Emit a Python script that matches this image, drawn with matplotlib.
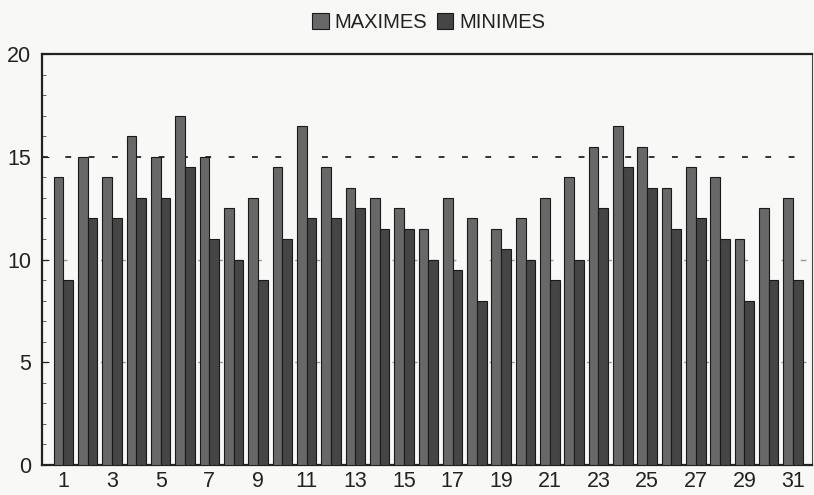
import matplotlib.pyplot as plt
from matplotlib.ticker import MultipleLocator
import numpy as np

# jours du mois
days = np.arange(1, 32)

maximes = [14, 15, 14, 16, 15, 17, 15, 12.5, 13, 14.5,
           16.5, 14.5, 13.5, 13, 12.5, 11.5, 13, 12, 11.5, 12,
           13, 14, 15.5, 16.5, 15.5, 13.5, 14.5, 14, 11, 12.5, 13]
minimes = [9, 12, 12, 13, 13, 14.5, 11, 10, 9, 11,
           12, 12, 12.5, 11.5, 11.5, 10, 9.5, 8, 10.5, 10,
           9, 10, 12.5, 14.5, 13.5, 11.5, 12, 11, 8, 9, 9]

xticks = list(range(1, 32, 2))
yticks = [0, 5, 10, 15, 20]

plt.rcParams['font.family'] = ['Liberation Sans', 'DejaVu Sans']

fig = plt.figure(figsize=(8.14, 4.95), dpi=100, facecolor='#f8f8f6')
ax = fig.add_axes([0.0516, 0.0606, 0.946, 0.83])
ax.set_facecolor('#f8f8f6')

w = 0.4
ax.bar(days - w / 2, maximes, width=w, color='#686868', edgecolor='#1a1a1a',
       linewidth=0.8, label='MAXIMES', zorder=3)
ax.bar(days + w / 2, minimes, width=w, color='#454545', edgecolor='#1a1a1a',
       linewidth=0.8, label='MINIMES', zorder=3)

# lignes pointillees
ax.axhline(15, color='#333333', linestyle=(0, (3, 9)), linewidth=1.4, zorder=1)
for yv in [5, 10]:
    ax.axhline(yv, color='#999999', linestyle=(0, (4, 10)), linewidth=1, zorder=1)

ax.set_xlim(0.12, 31.78)
ax.set_ylim(0, 20)
ax.set_xticks(xticks)
ax.set_xticklabels([str(t) for t in xticks])
ax.set_yticks(yticks)
ax.yaxis.set_minor_locator(MultipleLocator(1))
ax.tick_params(axis='x', length=0, labelsize=15.5, pad=4, colors='#222222')
ax.tick_params(axis='y', which='major', direction='in', length=5, labelsize=15.5,
               pad=8, colors='#222222')
ax.tick_params(axis='y', which='minor', direction='in', length=3, color='#444444')

for side in ['left', 'bottom', 'top']:
    ax.spines[side].set_linewidth(1.6)
    ax.spines[side].set_color('#222222')
ax.spines['right'].set_linewidth(0.8)
ax.spines['right'].set_color('#444444')

fig.legend(loc='upper center', bbox_to_anchor=(0.527, 1.01), ncol=2, frameon=False,
           fontsize=14.5, handlelength=0.8, handleheight=0.8, handletextpad=0.3,
           columnspacing=0.5, labelcolor='#222222')

fig.savefig('out.png', dpi=100, facecolor=fig.get_facecolor())
